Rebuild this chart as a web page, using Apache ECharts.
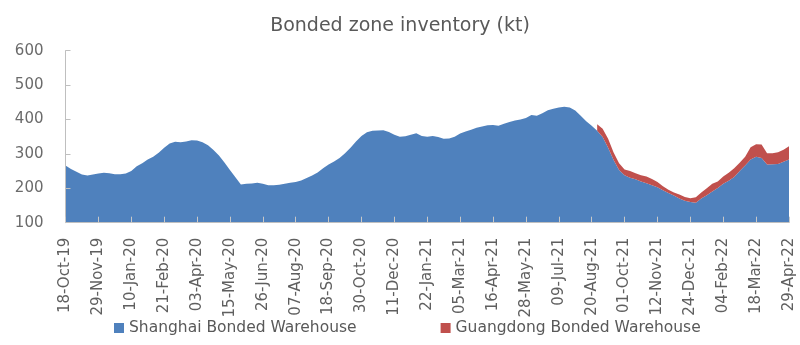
<!DOCTYPE html>
<html>
<head>
<meta charset="utf-8">
<script src="https://cdn.jsdelivr.net/npm/echarts@6/dist/echarts.min.js"></script>
<style>html,body{margin:0;padding:0;background:#fff}#c{width:800px;height:345px}</style>
</head>
<body>
<div id="c"></div>
<script>
var categories = [
'18-Oct-19','25-Oct-19','01-Nov-19','08-Nov-19','15-Nov-19','22-Nov-19','29-Nov-19','06-Dec-19','13-Dec-19','20-Dec-19','27-Dec-19',
'03-Jan-20','10-Jan-20','17-Jan-20','24-Jan-20','31-Jan-20','07-Feb-20','14-Feb-20','21-Feb-20','28-Feb-20',
'06-Mar-20','13-Mar-20','20-Mar-20','27-Mar-20','03-Apr-20','10-Apr-20','17-Apr-20','24-Apr-20',
'01-May-20','08-May-20','15-May-20','22-May-20','29-May-20','05-Jun-20','12-Jun-20','19-Jun-20','26-Jun-20',
'03-Jul-20','10-Jul-20','17-Jul-20','24-Jul-20','31-Jul-20','07-Aug-20','14-Aug-20','21-Aug-20','28-Aug-20',
'04-Sep-20','11-Sep-20','18-Sep-20','25-Sep-20','02-Oct-20','09-Oct-20','16-Oct-20','23-Oct-20','30-Oct-20',
'06-Nov-20','13-Nov-20','20-Nov-20','27-Nov-20','04-Dec-20','11-Dec-20','18-Dec-20','25-Dec-20',
'01-Jan-21','08-Jan-21','15-Jan-21','22-Jan-21','29-Jan-21','05-Feb-21','12-Feb-21','19-Feb-21','26-Feb-21',
'05-Mar-21','12-Mar-21','19-Mar-21','26-Mar-21','02-Apr-21','09-Apr-21','16-Apr-21','23-Apr-21','30-Apr-21',
'07-May-21','14-May-21','21-May-21','28-May-21','04-Jun-21','11-Jun-21','18-Jun-21','25-Jun-21',
'02-Jul-21','09-Jul-21','16-Jul-21','23-Jul-21','30-Jul-21','06-Aug-21','13-Aug-21','20-Aug-21','27-Aug-21',
'03-Sep-21','10-Sep-21','17-Sep-21','24-Sep-21','01-Oct-21','08-Oct-21','15-Oct-21','22-Oct-21','29-Oct-21',
'05-Nov-21','12-Nov-21','19-Nov-21','26-Nov-21','03-Dec-21','10-Dec-21','17-Dec-21','24-Dec-21','31-Dec-21',
'07-Jan-22','14-Jan-22','21-Jan-22','28-Jan-22','04-Feb-22','11-Feb-22','18-Feb-22','25-Feb-22',
'04-Mar-22','11-Mar-22','18-Mar-22','25-Mar-22','01-Apr-22','08-Apr-22','15-Apr-22','22-Apr-22','29-Apr-22'
];

var shanghai = [
266,256,248,240,237,240,243,245,244,241,241,243,250,264,273,284,292,303,318,330,
335,334,336,340,339,334,325,311,295,275,253,232,211,213,214,216,213,209,209,210,
213,216,218,223,230,237,246,258,269,278,288,302,318,336,352,363,367,368,369,364,
356,350,351,356,360,352,350,352,349,344,345,350,359,365,370,376,380,383,384,382,
388,393,397,400,404,413,411,418,427,431,435,437,435,426,411,395,382,367,349,318,
282,253,238,231,226,220,215,209,203,194,186,179,170,164,160,158,170,180,191,201,
213,222,233,250,266,284,292,288,269,270,271,277,284
];

var guangdong = [
'-','-','-','-','-','-','-','-','-','-','-','-','-','-','-','-','-','-','-','-',
'-','-','-','-','-','-','-','-','-','-','-','-','-','-','-','-','-','-','-','-',
'-','-','-','-','-','-','-','-','-','-','-','-','-','-','-','-','-','-','-','-',
'-','-','-','-','-','-','-','-','-','-','-','-','-','-','-','-','-','-','-','-',
'-','-','-','-','-','-','-','-','-','-','-','-','-','-','-','-','-',19,24,26,
22,20,17,19,18,18,19,18,15,12,10,9,12,11,11,16,18,20,22,19,
21,23,25,24,26,35,36,39,33,32,34,35,38
];

var yTicks = [100, 600, 100]; // min, max, interval

var chart = echarts.init(document.getElementById('c'), null, {renderer: 'canvas'});
var font = 'DejaVu Sans';
chart.setOption({
  animation: false,
  backgroundColor: '#ffffff',
  title: {
    text: 'Bonded zone inventory (kt)',
    left: 'center',
    top: 12,
    textStyle: {fontFamily: font, fontSize: 19, fontWeight: 'normal', color: '#595959'}
  },
  legend: {
    left: 109,
    top: 315,
    itemWidth: 10,
    itemHeight: 10,
    itemGap: 84,
    icon: 'rect',
    textStyle: {fontFamily: font, fontSize: 15.5, color: '#595959'},
    data: ['Shanghai Bonded Warehouse', 'Guangdong Bonded Warehouse']
  },
  grid: {left: 65.5, right: 11, top: 50.7, bottom: 122.3, containLabel: false},
  xAxis: {
    type: 'category',
    data: categories,
    boundaryGap: false,
    z: 5,
    axisLine: {show: true, lineStyle: {color: '#BFBFBF', width: 1}},
    axisTick: {show: true, inside: true, length: 6, interval: 5, lineStyle: {color: '#C8C8C8'}},
    axisLabel: {interval: 5, rotate: 90, margin: 15, fontFamily: font, fontSize: 15, color: '#5f5f5f'},
    splitLine: {show: false}
  },
  yAxis: {
    type: 'value',
    min: yTicks[0],
    max: yTicks[1],
    interval: yTicks[2],
    z: 5,
    axisLine: {show: true, lineStyle: {color: '#BFBFBF', width: 1}},
    axisTick: {show: true, inside: true, length: 5, lineStyle: {color: '#BFBFBF'}},
    axisLabel: {margin: 22, fontFamily: font, fontSize: 15, color: '#6b6b6b'},
    splitLine: {show: false}
  },
  series: [
    {
      name: 'Shanghai Bonded Warehouse',
      type: 'line',
      stack: 'total',
      data: shanghai,
      showSymbol: false,
      symbol: 'none',
      lineStyle: {width: 0},
      itemStyle: {color: '#4F81BD'},
      areaStyle: {color: '#4F81BD', opacity: 1}
    },
    {
      name: 'Guangdong Bonded Warehouse',
      type: 'line',
      stack: 'total',
      data: guangdong,
      showSymbol: false,
      symbol: 'none',
      connectNulls: false,
      lineStyle: {width: 0},
      itemStyle: {color: '#C0504D'},
      areaStyle: {color: '#C0504D', opacity: 1}
    }
  ]
});
</script>
</body>
</html>
